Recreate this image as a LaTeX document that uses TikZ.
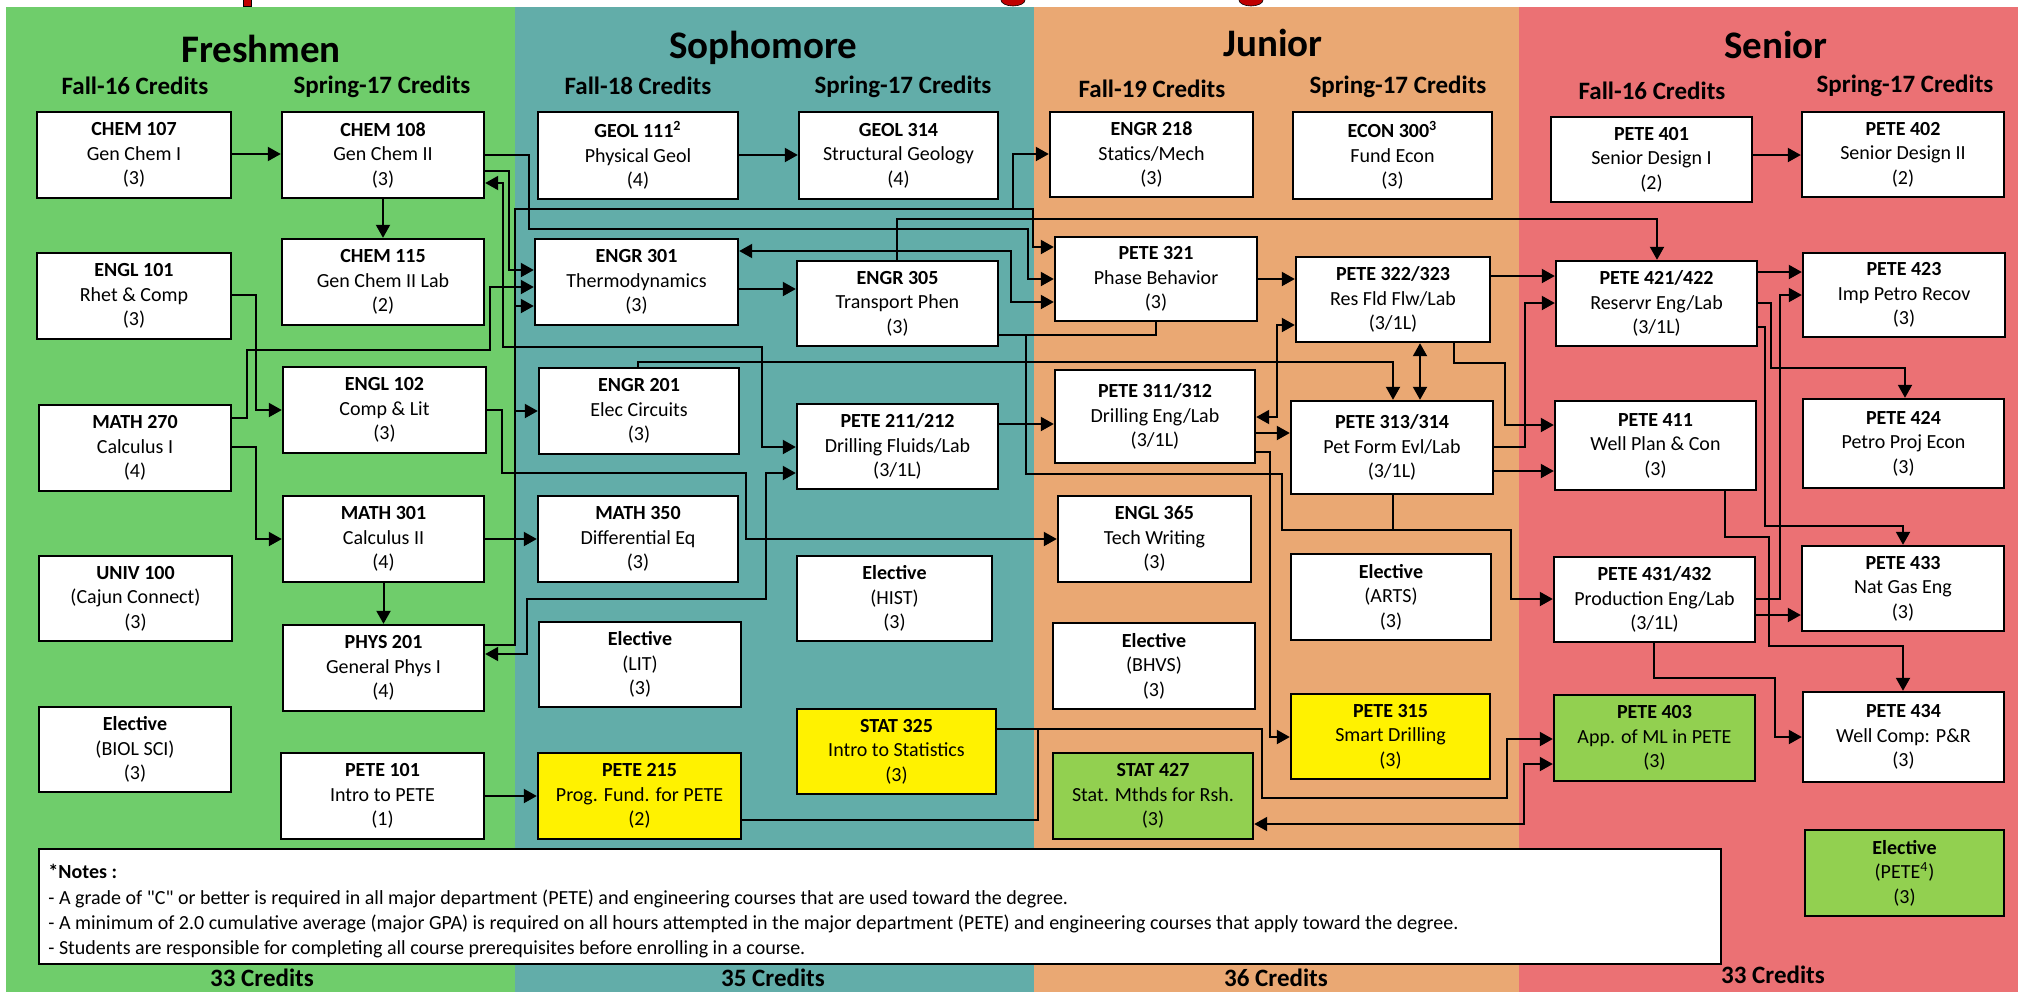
\documentclass[tikz,border=0pt]{standalone}
\usepackage{fontspec}
\setmainfont{Carlito}
\usetikzlibrary{arrows.meta}
\definecolor{bggreen}{HTML}{6FCD6B}
\definecolor{bgteal}{HTML}{62ADA9}
\definecolor{bgorange}{HTML}{EAA873}
\definecolor{bgred}{HTML}{EB7174}
\definecolor{boxgreen}{HTML}{92D050}
\definecolor{titlered}{HTML}{C00000}
\newcommand\boxfont{\fontsize{10}{12.25}\selectfont}
\newcommand\course[9]{\node[cbox,fill=#6,minimum width={(#4-#2)*0.5pt},minimum height={(#5-#3)*0.5pt}] (#1) at ({(#2+#4)/2},{(#3+#5)/2}) {\textbf{#7}\\#8\\#9};}
\tikzset{
 cbox/.style={draw=black, line width=1.2pt, inner sep=0pt, align=center, font=\boxfont},
 conn/.style={draw=black, line width=1pt},
 arr/.style={conn, -{Triangle[length=6.5pt,width=7pt]}},
 darr/.style={conn, {Triangle[length=6.5pt,width=7pt]}-{Triangle[length=6.5pt,width=7pt]}},
 yeartitle/.style={font=\fontsize{19.5}{22}\selectfont\bfseries, inner sep=0pt},
 semtitle/.style={font=\fontsize{12.5}{14}\selectfont\bfseries, inner sep=0pt},
 credit/.style={font=\fontsize{12.5}{14}\selectfont\bfseries, inner sep=0pt},
}
\begin{document}
\begin{tikzpicture}[x=0.5pt,y=-0.5pt]
\useasboundingbox (0,0) rectangle (2018,992);
\fill[white] (0,0) rectangle (2018,992);
% cut-off title fragments
\filldraw[fill=titlered, draw=black, line width=0.3pt] (243,-4) rectangle (251,6);
\filldraw[fill=titlered, draw=black, line width=0.3pt] (1013,0) ellipse [x radius=12, y radius=6];
\filldraw[fill=titlered, draw=black, line width=0.3pt] (1251,0) ellipse [x radius=12, y radius=6];
% bands
\fill[bggreen] (6,7) rectangle (515,992);
\fill[bgteal] (515,7) rectangle (1034,992);
\fill[bgorange] (1034,7) rectangle (1519,992);
\fill[bgred] (1519,7) rectangle (2018,992);
% titles
\node[yeartitle] (tfr) at (261,49) {Freshmen};
\node[yeartitle] (tso) at (763,48) {Sophomore};
\node[yeartitle] (tju) at (1273,43) {Junior};
\node[yeartitle] (tse) at (1776,45) {Senior};
\node[semtitle] (s1) at (135,86) {Fall-16 Credits};
\node[semtitle] (s2) at (382,87) {Spring-17 Credits};
\node[semtitle] (s3) at (638,86) {Fall-18 Credits};
\node[semtitle] (s4) at (903,87) {Spring-17 Credits};
\node[semtitle] (s5) at (1152,89) {Fall-19 Credits};
\node[semtitle] (s6) at (1398,87) {Spring-17 Credits};
\node[semtitle] (s7) at (1652,91) {Fall-16 Credits};
\node[semtitle] (s8) at (1905,86) {Spring-17 Credits};
% courses
\course{chem107}{37}{112}{231}{198}{white}{CHEM 107}{Gen Chem I}{(3)}
\course{engl101}{37}{253}{231}{339}{white}{ENGL 101}{Rhet \& Comp}{(3)}
\course{math270}{39}{405}{231}{491}{white}{MATH 270}{Calculus I}{(4)}
\course{univ100}{39}{556}{232}{641}{white}{UNIV 100}{(Cajun Connect)}{(3)}
\course{elecbio}{39}{707}{231}{792}{white}{Elective}{(BIOL SCI)}{(3)}
\course{chem108}{282}{112}{484}{198}{white}{CHEM 108}{Gen Chem II}{(3)}
\course{chem115}{282}{239}{484}{325}{white}{CHEM 115}{Gen Chem II Lab}{(2)}
\course{engl102}{283}{367}{486}{453}{white}{ENGL 102}{Comp \& Lit}{(3)}
\course{math301}{283}{496}{484}{582}{white}{MATH 301}{Calculus II}{(4)}
\course{phys201}{283}{625}{484}{711}{white}{PHYS 201}{General Phys I}{(4)}
\course{pete101}{281}{753}{484}{839}{white}{PETE 101}{Intro to PETE}{(1)}
\course{geol111}{538}{112}{738}{199}{white}{GEOL 111\textsuperscript{2}}{Physical Geol}{(4)}
\course{engr301}{535}{239}{738}{325}{white}{ENGR 301}{Thermodynamics}{(3)}
\course{engr201}{539}{368}{739}{454}{white}{ENGR 201}{Elec Circuits}{(3)}
\course{math350}{538}{496}{738}{582}{white}{MATH 350}{Differential Eq}{(3)}
\course{eleclit}{539}{622}{741}{707}{white}{Elective}{(LIT)}{(3)}
\course{pete215}{538}{753}{741}{839}{yellow}{PETE 215}{Prog. Fund. for PETE}{(2)}
\course{geol314}{799}{112}{998}{199}{white}{GEOL 314}{Structural Geology}{(4)}
\course{engr305}{797}{261}{998}{346}{white}{ENGR 305}{Transport Phen}{(3)}
\course{pete211}{797}{404}{998}{489}{white}{PETE 211/212}{Drilling Fluids/Lab}{(3/1L)}
\course{elechist}{797}{556}{992}{641}{white}{Elective}{(HIST)}{(3)}
\course{stat325}{797}{709}{996}{794}{yellow}{STAT 325}{Intro to Statistics}{(3)}
\course{engr218}{1050}{112}{1253}{197}{white}{ENGR 218}{Statics/Mech}{(3)}
\course{pete321}{1055}{237}{1257}{321}{white}{PETE 321}{Phase Behavior}{(3)}
\course{pete311}{1055}{370}{1255}{463}{white}{PETE 311/312}{Drilling Eng/Lab}{(3/1L)}
\course{engl365}{1058}{496}{1251}{582}{white}{ENGL 365}{Tech Writing}{(3)}
\course{elecbhvs}{1053}{623}{1255}{709}{white}{Elective}{(BHVS)}{(3)}
\course{stat427}{1053}{753}{1253}{839}{boxgreen}{STAT 427}{Stat. Mthds for Rsh.}{(3)}
\course{econ300}{1293}{112}{1492}{199}{white}{ECON 300\textsuperscript{3}}{Fund Econ}{(3)}
\course{pete322}{1296}{257}{1490}{342}{white}{PETE 322/323}{Res Fld Flw/Lab}{(3/1L)}
\course{pete313}{1291}{401}{1493}{494}{white}{PETE 313/314}{Pet Form Evl/Lab}{(3/1L)}
\course{elecarts}{1291}{554}{1491}{640}{white}{Elective}{(ARTS)}{(3)}
\course{pete315}{1291}{694}{1490}{779}{yellow}{PETE 315}{Smart Drilling}{(3)}
\course{pete401}{1551}{117}{1752}{202}{white}{PETE 401}{Senior Design I}{(2)}
\course{pete421}{1556}{261}{1757}{346}{white}{PETE 421/422}{Reservr Eng/Lab}{(3/1L)}
\course{pete411}{1555}{401}{1756}{490}{white}{PETE 411}{Well Plan \& Con}{(3)}
\course{pete431}{1554}{557}{1755}{642}{white}{PETE 431/432}{Production Eng/Lab}{(3/1L)}
\course{pete403}{1554}{695}{1755}{781}{boxgreen}{PETE 403}{App. of ML in PETE}{(3)}
\course{pete402}{1802}{112}{2004}{197}{white}{PETE 402}{Senior Design II}{(2)}
\course{pete423}{1803}{253}{2005}{337}{white}{PETE 423}{Imp Petro Recov}{(3)}
\course{pete424}{1803}{399}{2004}{488}{white}{PETE 424}{Petro Proj Econ}{(3)}
\course{pete433}{1802}{546}{2004}{631}{white}{PETE 433}{Nat Gas Eng}{(3)}
\course{pete434}{1803}{692}{2004}{782}{white}{PETE 434}{Well Comp: P\&R}{(3)}
\course{elecpete}{1805}{830}{2004}{916}{boxgreen}{Elective}{(PETE\textsuperscript{4})}{(3)}
% junction coordinates
\coordinate (jt1) at (515,306);
\coordinate (jt2) at (515,411);
\coordinate (jt3) at (1013,209);
\coordinate (js1) at (1038,729);
\coordinate (je1) at (1026,335);
\coordinate (je2) at (1282,530);
% connectors
\draw[arr] (chem107.east |- 0,154) -- (chem108.west |- 0,154);
\draw[arr] (chem108.south) -- (chem115.north);
\draw[arr] (geol111.east |- 0,155) -- (geol314.west |- 0,155);
\draw[arr] (pete401.east |- 0,155) -- (pete402.west |- 0,155);
\draw[arr] (chem108.east |- 0,155) -| (529,229) -| (1028,279) -- (pete321.west |- 0,279);
\draw[arr] (chem108.east |- 0,171) -| (509,270) -- (engr301.west |- 0,270);
\draw[darr] (chem108.east |- 0,183) -| (503,347) -| (762,447) -- (pete211.west |- 0,447);
\draw[arr] (phys201.east |- 0,645) -| (515,209) -| (1033,247) -- (pete321.west |- 0,247);
\draw[arr] (jt1) -- (engr301.west |- jt1);
\draw[arr] (jt2) -- (engr201.west |- jt2);
\draw[arr] (jt3) |- (engr218.west |- 0,154);
\draw[arr] (engr305.north -| 897,0) |- (1657,219) -- (pete421.north -| 1657,0);
\draw[darr] (engr301.east |- 0,251) -| (1011,302) -- (pete321.west |- 0,302);
\draw[arr] (engr301.east |- 0,289) -- (engr305.west |- 0,289);
\draw[arr] (math270.east |- 0,418) -| (247,350) -| (490,287) -- (engr301.west |- 0,287);
\draw[arr] (engl101.east |- 0,295) -| (256,410) -- (engl102.west |- 0,410);
\draw[arr] (math270.east |- 0,447) -| (256,539) -- (math301.west |- 0,539);
\draw[arr] (math301.east |- 0,539) -- (math350.west |- 0,539);
\draw[arr] (math301.south) -- (phys201.north);
\draw[arr] (engl102.east |- 0,410) -| (502,473) -| (746,539) -- (engl365.west |- 0,539);
\draw[darr] (phys201.east |- 0,654) -| (527,599) -| (766,473) -- (pete211.west |- 0,473);
\draw[arr] (engr201.north -| 638,0) |- (1393,362) -- (pete313.north -| 1393,0);
\draw[arr] (pete101.east |- 0,796) -- (pete215.west |- 0,796);
\draw[conn] (pete215.east |- 0,820) -| (js1);
\draw[arr] (stat325.east |- 0,729) -| (1262,798) -| (1507,739) -- (pete403.west |- 0,739);
\draw[darr] (stat427.east |- 0,824) -| (1524,764) -- (pete403.west |- 0,764);
\draw[arr] (engr305.east |- 0,335) -| (1026,474) -| (1282,530) -| (1511,599) -- (pete431.west |- 0,599);
\draw[conn] (pete321.south -| 1156,0) |- (je1);
\draw[conn] (pete313.south -| 1393,0) |- (je2);
\draw[arr] (pete211.east |- 0,424) -- (pete311.west |- 0,424);
\draw[arr] (pete321.east |- 0,279) -- (pete322.west |- 0,279);
\draw[darr] (pete322.west |- 0,325) -| (1277,417) -- (pete311.east |- 0,417);
\draw[arr] (pete311.east |- 0,433) -- (pete313.west |- 0,433);
\draw[arr] (pete311.east |- 0,452) -| (1270,737) -- (pete315.west |- 0,737);
\draw[darr] (pete322.south -| 1420,0) -- (pete313.north -| 1420,0);
\draw[arr] (pete322.east |- 0,276) -- (pete421.west |- 0,276);
\draw[arr] (pete322.south -| 1454,0) |- (1505,363) |- (pete411.west |- 0,425);
\draw[arr] (pete313.east |- 0,447) -| (1525,303) -- (pete421.west |- 0,303);
\draw[arr] (pete313.east |- 0,471) -- (pete411.west |- 0,471);
\draw[arr] (pete421.east |- 0,272) -- (pete423.west |- 0,272);
\draw[arr] (pete431.east |- 0,599) -| (1780,295) -- (pete423.west |- 0,295);
\draw[arr] (pete421.east |- 0,303) -| (1771,368) -| (pete424.north -| 1905,0);
\draw[arr] (pete421.east |- 0,327) -| (1765,526) -| (pete433.north -| 1903,0);
\draw[arr] (pete411.south -| 1725,0) |- (1769,537) |- (1903,646) -- (pete434.north -| 1903,0);
\draw[arr] (pete431.east |- 0,615) -- (pete433.west |- 0,615);
\draw[arr] (pete431.south -| 1654,0) |- (1775,678) |- (pete434.west |- 0,737);
% notes
\node[draw=black, line width=1.2pt, fill=white, anchor=north west, inner sep=0pt, minimum width={1682*0.5pt}, minimum height={115*0.5pt}] (notes) at (38,848) {};
\node[anchor=north west, align=left, inner sep=0pt, font=\fontsize{10}{12.7}\selectfont] (notestext) at (48,864) {\textbf{*Notes :}\\- A grade of \textquotedbl C\textquotedbl{} or better is required in all major department (PETE) and engineering courses that are used toward the degree.\\- A minimum of 2.0 cumulative average (major GPA) is required on all hours attempted in the major department (PETE) and engineering courses that apply toward the degree.\\- Students are responsible for completing all course prerequisites before enrolling in a course.};
% credits
\node[credit] (c1) at (262,978) {33 Credits};
\node[credit] (c2) at (773,978) {35 Credits};
\node[credit] (c3) at (1276,978) {36 Credits};
\node[credit] (c4) at (1773,975) {33 Credits};
\end{tikzpicture}
\end{document}
